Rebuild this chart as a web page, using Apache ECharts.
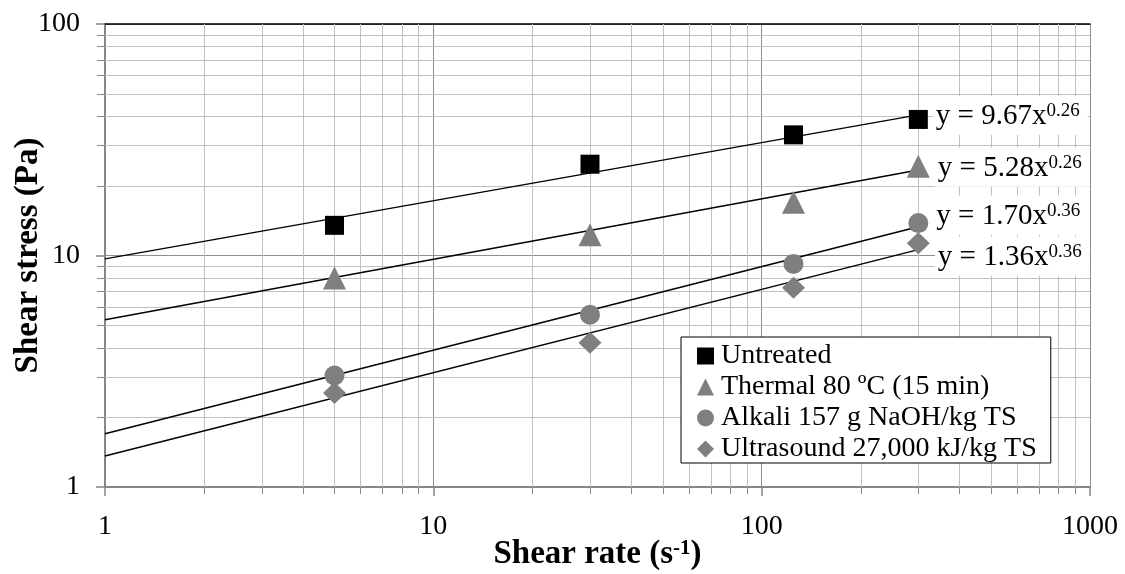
<!DOCTYPE html>
<html>
<head>
<meta charset="UTF-8">
<title>Shear stress vs shear rate</title>
<script src="https://cdn.jsdelivr.net/npm/echarts@6/dist/echarts.min.js"></script>
<style>
  html, body { margin: 0; padding: 0; background: #fff; }
  #main { width: 1125px; height: 574px; }
</style>
</head>
<body>
<div id="main"></div>
<script type="text/javascript">
// shear rates the samples were measured at (s-1)
var shearRate = [5, 30, 125, 300];

// shear stress (Pa)
var untreated  = [13.5, 24.8, 33.2, 38.7];
var thermal    = [8.0, 12.3, 17.0, 24.3];
var alkali     = [3.03, 5.55, 9.2, 13.8];
var ultrasound = [2.55, 4.2, 7.25, 11.3];

// power-law trendlines, y = a * x^b, drawn from x = 1 to x = 300
var fitX     = [1, 300];
var coefA    = [9.67, 5.28, 1.70, 1.36];
var expB     = [0.26, 0.26, 0.36, 0.36];
var fitStart = [9.67, 5.28, 1.70, 1.36];
var fitEnd   = [40.5, 23.4, 13.3, 10.6];

var names = ['Untreated', 'Thermal 80 \u00baC (15 min)', 'Alkali 157 g NaOH/kg TS', 'Ultrasound 27,000 kJ/kg TS'];

// minor grid values on both log axes
var xMinor = [2, 3, 4, 5, 6, 7, 8, 9, 20, 30, 40, 50, 60, 70, 80, 90, 200, 300, 400, 500, 600, 700, 800, 900];
var yMinor = [2, 3, 4, 5, 6, 7, 8, 9, 20, 30, 40, 50, 60, 70, 80, 90];

var FONT = '"Liberation Serif", "Times New Roman", serif';
var MINOR = '#c0c0c0';
var MAJOR = '#8e8e8e';
var AXIS = '#868686';

var myChart = echarts.init(document.getElementById('main'));

function crisp(v) { return Math.round(v) + 0.5; }

function vGrid(params, api) {
    var cs = params.coordSys;
    var x = crisp(api.coord([api.value(0), 1])[0]);
    var bottom = cs.y + cs.height;
    return { type: 'group', children: [
        { type: 'line', shape: { x1: x, y1: cs.y, x2: x, y2: bottom }, style: { stroke: MINOR, lineWidth: 1 } },
        { type: 'line', shape: { x1: x, y1: bottom, x2: x, y2: bottom + 7 }, style: { stroke: AXIS, lineWidth: 1 } }
    ]};
}

function hGrid(params, api) {
    var cs = params.coordSys;
    var y = crisp(api.coord([1, api.value(1)])[1]);
    return { type: 'group', children: [
        { type: 'line', shape: { x1: cs.x, y1: y, x2: cs.x + cs.width, y2: y }, style: { stroke: MINOR, lineWidth: 1 } },
        { type: 'line', shape: { x1: cs.x - 8, y1: y, x2: cs.x, y2: y }, style: { stroke: AXIS, lineWidth: 1 } }
    ]};
}

function eqText(i) {
    return 'y = ' + coefA[i].toFixed(2) + 'x{sup|' + expB[i].toFixed(2) + '}';
}

var labelOffsets = [[0, -4], [0, 1], [0, -8], [0, 13]];

function points(ys, i) {
    return ys.map(function (y, k) {
        var item = { value: [shearRate[k], y] };
        if (k === ys.length - 1) {
            item.label = {
                show: true,
                position: 'right',
                distance: 5,
                offset: labelOffsets[i],
                formatter: eqText(i),
                color: '#000',
                fontFamily: FONT,
                fontSize: 29,
                backgroundColor: '#fff',
                padding: [6, 8, 4, 3],
                rich: {
                    sup: { fontFamily: FONT, fontSize: 19, color: '#000', verticalAlign: 'top' }
                }
            };
        }
        return item;
    });
}

function fitLine(i) {
    return {
        type: 'line',
        data: [[fitX[0], fitStart[i]], [fitX[1], fitEnd[i]]],
        symbol: 'none',
        silent: true,
        lineStyle: { color: '#000', width: 1.5 },
        z: 3
    };
}

var markers = [
    { sym: 'rect', size: 19, color: '#000' },
    { sym: 'triangle', size: 23, color: '#7f7f7f' },
    { sym: 'circle', size: 20, color: '#7f7f7f' },
    { sym: 'diamond', size: [23, 22], color: '#7f7f7f' }
];
var allData = [untreated, thermal, alkali, ultrasound];

var series = [
    { type: 'custom', renderItem: vGrid, data: xMinor.map(function (v) { return [v, 1]; }), clip: false, silent: true, z: 1 },
    { type: 'custom', renderItem: hGrid, data: yMinor.map(function (v) { return [1, v]; }), clip: false, silent: true, z: 1 }
];
for (var i = 0; i < 4; i++) series.push(fitLine(i));
for (var j = 0; j < 4; j++) {
    series.push({
        name: names[j],
        type: 'scatter',
        symbol: markers[j].sym,
        symbolSize: markers[j].size,
        itemStyle: { color: markers[j].color, opacity: 1 },
        data: points(allData[j], j),
        z: 4
    });
}

function plain(v) { return String(v); }

var option = {
    animation: false,
    grid: { left: 105, right: 35, top: 24, bottom: 87, outerBoundsMode: 'none', containLabel: false },
    legend: {
        data: names,
        orient: 'vertical',
        left: 681,
        bottom: 111,
        backgroundColor: '#fff',
        borderColor: '#000',
        borderWidth: 1,
        borderRadius: 0,
        padding: [5, 14, 0, 16],
        itemGap: 3,
        itemWidth: 17,
        itemHeight: 17,
        textStyle: { fontFamily: FONT, fontSize: 28, color: '#000', padding: [0, 0, 0, 2] }
    },
    xAxis: [{
        type: 'log',
        logBase: 10,
        min: 1,
        max: 1000,
        name: 'Shear rate (s{sup|-1})',
        nameLocation: 'middle',
        nameGap: 51,
        nameMoveOverlap: false,
        nameTextStyle: {
            fontFamily: FONT, fontSize: 33, fontWeight: 'bold', color: '#000',
            rich: { sup: { fontFamily: FONT, fontSize: 21, fontWeight: 'bold', color: '#000', verticalAlign: 'top' } }
        },
        axisLine: { lineStyle: { color: AXIS, width: 2 } },
        axisTick: { show: true, length: 9, lineStyle: { color: AXIS, width: 1.5 } },
        axisLabel: { fontFamily: FONT, fontSize: 28, color: '#000', margin: 26, formatter: plain },
        splitLine: { show: true, lineStyle: { color: MAJOR, width: 1 } }
    }, {
        type: 'log',
        logBase: 10,
        min: 1,
        max: 1000,
        position: 'top',
        axisLine: { lineStyle: { color: '#000', width: 1.5 } },
        axisTick: { show: false },
        axisLabel: { show: false },
        splitLine: { show: false }
    }],
    yAxis: {
        type: 'log',
        logBase: 10,
        min: 1,
        max: 100,
        name: 'Shear stress (Pa)',
        nameLocation: 'middle',
        nameGap: 60,
        nameMoveOverlap: false,
        nameTextStyle: { fontFamily: FONT, fontSize: 33, fontWeight: 'bold', color: '#000' },
        axisLine: { show: true, lineStyle: { color: AXIS, width: 2 } },
        axisTick: { show: true, length: 9, lineStyle: { color: AXIS, width: 1.5 } },
        axisLabel: { fontFamily: FONT, fontSize: 28, color: '#000', margin: 25, formatter: plain },
        splitLine: { show: true, lineStyle: { color: MAJOR, width: 1 } }
    },
    series: series
};

myChart.setOption(option);
</script>
</body>
</html>
